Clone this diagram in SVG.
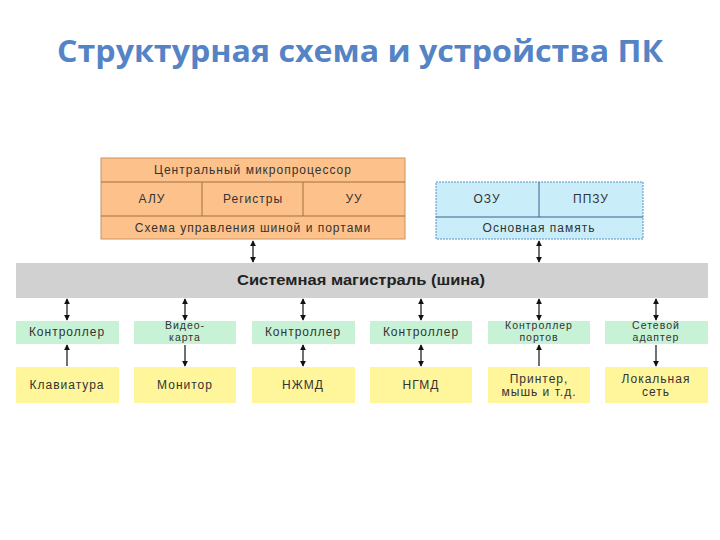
<svg xmlns="http://www.w3.org/2000/svg" width="720" height="540" viewBox="0 0 720 540">
<style>
.t{font-family:"Liberation Sans",Arial,sans-serif;font-size:12px;letter-spacing:1px;fill:#333;text-anchor:middle}
.s{font-size:10.5px}
.cpu{fill:#FDC28B;stroke:#C9935E;stroke-width:1}
.div{stroke:#A0703F;stroke-width:1}
.mem{fill:#C9EEF9;stroke:#5B8EC4;stroke-width:1;stroke-dasharray:2 1}
.mdiv{stroke:#3E5F8A;stroke-width:1}
.ctl{fill:#C8F2D6}
.dev{fill:#FFF59B}
.c{stroke:#111;stroke-width:1.2;fill:none}
</style>
<defs>
<marker id="a" viewBox="0 0 8 8" refX="7" refY="4" markerWidth="6" markerHeight="6" orient="auto-start-reverse" markerUnits="userSpaceOnUse">
<path d="M0,0 L8,4 L0,8 z" fill="#111"/>
</marker>
</defs>
<rect width="720" height="540" fill="#fff"/>
<text x="360" y="62" font-family="'Open Sans','Noto Sans',sans-serif" font-weight="bold" font-size="31" fill="#5584C6" text-anchor="middle" textLength="606" lengthAdjust="spacingAndGlyphs">Структурная схема и устройства ПК</text>

<g id="cpu">
<rect class="cpu" x="101" y="158" width="304" height="81"/>
<line class="div" x1="101" y1="182" x2="405" y2="182"/>
<line class="div" x1="101" y1="216" x2="405" y2="216"/>
<line class="div" x1="202" y1="182" x2="202" y2="216"/>
<line class="div" x1="303" y1="182" x2="303" y2="216"/>
<text class="t" x="253" y="174">Центральный микропроцессор</text>
<text class="t" x="152" y="203">АЛУ</text>
<text class="t" x="253" y="203">Регистры</text>
<text class="t" x="354" y="203">УУ</text>
<text class="t" x="253" y="232">Схема управления шиной и портами</text>
</g>

<g id="memory">
<rect class="mem" x="436" y="182" width="207" height="57"/>
<line class="mdiv" x1="436" y1="217" x2="643" y2="217"/>
<line class="mdiv" x1="539" y1="182" x2="539" y2="217"/>
<text class="t" x="487" y="203">ОЗУ</text>
<text class="t" x="591" y="203">ППЗУ</text>
<text class="t" x="539" y="232">Основная память</text>
</g>

<g id="bus">
<rect x="16" y="263" width="692" height="35" fill="#D1D1D1"/>
<text x="361" y="285" font-family="'Liberation Sans',Arial,sans-serif" font-weight="bold" font-size="14" fill="#222" text-anchor="middle" textLength="248" lengthAdjust="spacingAndGlyphs">Системная магистраль (шина)</text>
</g>

<g id="ctl1"><rect class="ctl" x="16" y="321" width="103" height="23"/><text class="t" x="67" y="336">Контроллер</text></g>
<g id="ctl2"><rect class="ctl" x="134" y="321" width="102" height="23"/><text class="t s" x="185" y="329">Видео-</text><text class="t s" x="185" y="341">карта</text></g>
<g id="ctl3"><rect class="ctl" x="252" y="321" width="103" height="23"/><text class="t" x="303" y="336">Контроллер</text></g>
<g id="ctl4"><rect class="ctl" x="370" y="321" width="102" height="23"/><text class="t" x="421" y="336">Контроллер</text></g>
<g id="ctl5"><rect class="ctl" x="488" y="321" width="102" height="23"/><text class="t s" x="539" y="329">Контроллер</text><text class="t s" x="539" y="341">портов</text></g>
<g id="ctl6"><rect class="ctl" x="605" y="321" width="103" height="23"/><text class="t s" x="656" y="329">Сетевой</text><text class="t s" x="656" y="341">адаптер</text></g>

<g id="dev1"><rect class="dev" x="16" y="367" width="103" height="36"/><text class="t" x="67" y="389">Клавиатура</text></g>
<g id="dev2"><rect class="dev" x="134" y="367" width="102" height="36"/><text class="t" x="185" y="389">Монитор</text></g>
<g id="dev3"><rect class="dev" x="252" y="367" width="103" height="36"/><text class="t" x="303" y="389">НЖМД</text></g>
<g id="dev4"><rect class="dev" x="370" y="367" width="102" height="36"/><text class="t" x="421" y="389">НГМД</text></g>
<g id="dev5"><rect class="dev" x="488" y="367" width="102" height="36"/><text class="t" x="539" y="383">Принтер,</text><text class="t" x="539" y="396">мышь и т.д.</text></g>
<g id="dev6"><rect class="dev" x="605" y="367" width="103" height="36"/><text class="t" x="656" y="383">Локальная</text><text class="t" x="656" y="396">сеть</text></g>

<g id="connectors">
<line class="c" x1="253" y1="241" x2="253" y2="262" marker-start="url(#a)" marker-end="url(#a)"/>
<line class="c" x1="539" y1="241" x2="539" y2="262" marker-start="url(#a)" marker-end="url(#a)"/>
<line class="c" x1="67" y1="299" x2="67" y2="320" marker-start="url(#a)" marker-end="url(#a)"/>
<line class="c" x1="185" y1="299" x2="185" y2="320" marker-start="url(#a)" marker-end="url(#a)"/>
<line class="c" x1="303" y1="299" x2="303" y2="320" marker-start="url(#a)" marker-end="url(#a)"/>
<line class="c" x1="421" y1="299" x2="421" y2="320" marker-start="url(#a)" marker-end="url(#a)"/>
<line class="c" x1="539" y1="299" x2="539" y2="320" marker-start="url(#a)" marker-end="url(#a)"/>
<line class="c" x1="656" y1="299" x2="656" y2="320" marker-start="url(#a)" marker-end="url(#a)"/>
<line class="c" x1="67" y1="366" x2="67" y2="345" marker-end="url(#a)"/>
<line class="c" x1="185" y1="345" x2="185" y2="366" marker-end="url(#a)"/>
<line class="c" x1="303" y1="345" x2="303" y2="366" marker-start="url(#a)" marker-end="url(#a)"/>
<line class="c" x1="421" y1="345" x2="421" y2="366" marker-start="url(#a)" marker-end="url(#a)"/>
<line class="c" x1="539" y1="366" x2="539" y2="345" marker-end="url(#a)"/>
<line class="c" x1="656" y1="345" x2="656" y2="366" marker-end="url(#a)"/>
</g>
</svg>
